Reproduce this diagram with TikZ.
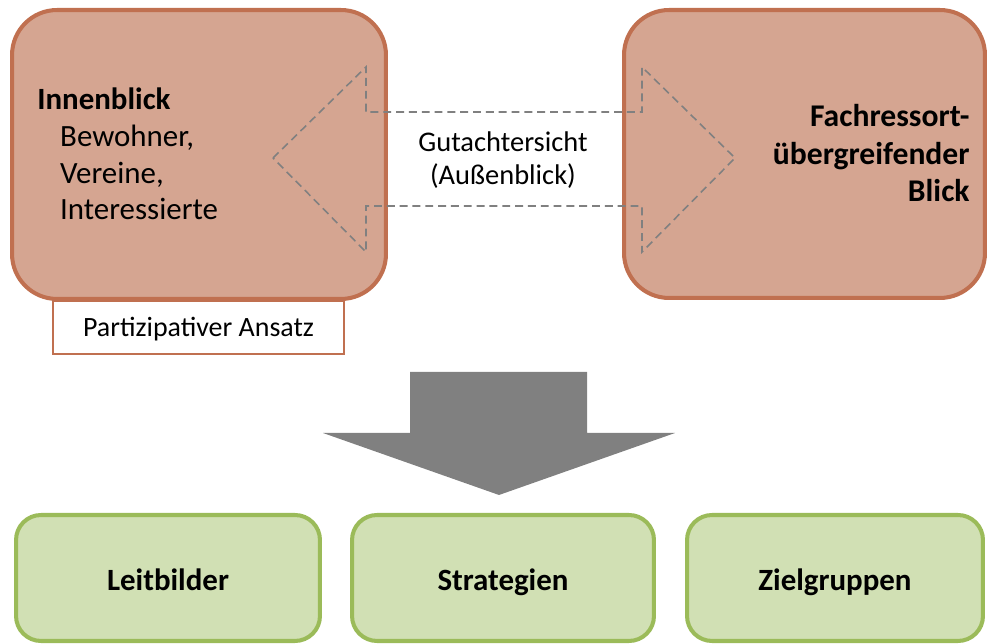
\documentclass[tikz,border=0pt]{standalone}
\usepackage{fontspec}
\setmainfont{Carlito}

\definecolor{brownline}{RGB}{192,112,80}
\definecolor{brownfill}{RGB}{213,165,145}
\definecolor{greenline}{RGB}{155,187,89}
\definecolor{greenfill}{RGB}{209,224,180}
\definecolor{arrowgray}{RGB}{128,128,128}

\tikzset{
  viewbox/.style={draw=brownline, fill=brownfill, line width=2.3pt, rounded corners=0.9cm},
  resultbox/.style={draw=greenline, fill=greenfill, line width=2.3pt, rounded corners=0.5cm,
    minimum height=2.52cm, text height=14.7pt, text depth=0pt,
    font=\fontsize{17.6}{20}\selectfont\bfseries},
  viewtext/.style={inner sep=0pt, font=\fontsize{17.6}{21}\selectfont},
}

\begin{document}
\begin{tikzpicture}[x=0.02cm, y=-0.02cm]
      \useasboundingbox (0,0) rectangle (988,644);

      % Ansatz unter dem Innenblick
      \node[draw=brownline, fill=white, line width=1.1pt, minimum width=5.82cm, minimum height=1.06cm,
        text height=10.8pt, text depth=0pt,
        font=\fontsize{15.9}{18}\selectfont] (ansatz) at (198.5,327.5) {Partizipativer Ansatz};

      \node[viewbox, minimum width=7.48cm, minimum height=5.78cm] (innen) at (199,154.5) {};
      \node[viewbox, minimum width=7.22cm, minimum height=5.76cm] (fach) at (804.5,154) {};

      % Doppelpfeil
      \draw[arrowgray, line width=0.9pt, dash pattern=on 4.5pt off 2.8pt]
        (273,158)--(366,67)--(366,112)--(642,112)--(642,67)--(735,158)
        --(642,252)--(642,206)--(366,206)--(366,252)--cycle;

      \node[viewtext, anchor=base west, align=left] (innentext) at (37,220)
        {\textbf{Innenblick}\\\hspace*{13pt}Bewohner,\\\hspace*{13pt}Vereine,\\\hspace*{13pt}Interessierte};
      \node[viewtext, anchor=base east, align=right, font=\fontsize{18}{21.5}\selectfont\bfseries] (fachtext) at (970,202)
        {Fachressort-\\übergreifender\\Blick};
      \node[viewtext, anchor=base, align=center, font=\fontsize{16.2}{19}\selectfont] (gutachter) at (503,185)
        {Gutachtersicht\\(Außenblick)};

      % Pfeil nach unten
      \fill[arrowgray] (410,372)--(587,372)--(587,433)--(675,433)--(499,495)
        --(323,433)--(410,433)--cycle;

      \node[resultbox, minimum width=6.08cm] (leit) at (168,578) {Leitbilder};
      \node[resultbox, minimum width=6.04cm] (strat) at (503,578) {Strategien};
      \node[resultbox, minimum width=5.92cm] (ziel) at (835,578) {Zielgruppen};
\end{tikzpicture}
\end{document}
